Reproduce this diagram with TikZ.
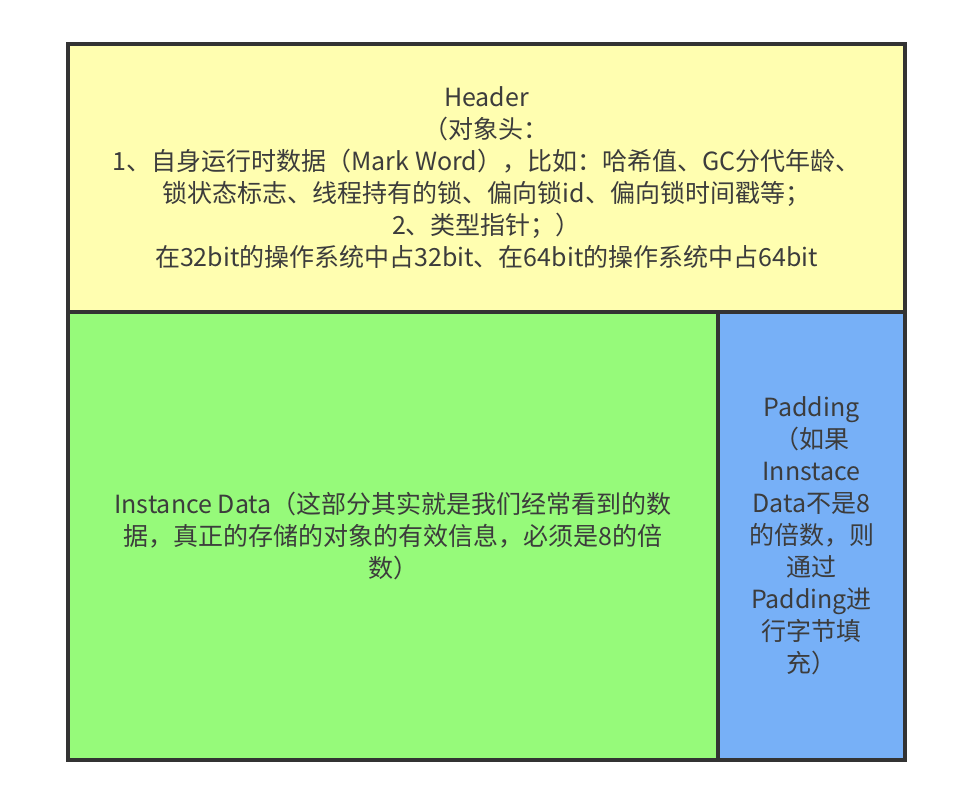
\documentclass[tikz,border=0pt]{standalone}
\usepackage{fontspec}
\setmainfont{Noto Sans CJK SC}
\usepackage{xcolor}
\usepackage{tikz}
\usetikzlibrary{positioning}

\definecolor{headeryellow}{RGB}{255,254,176}
\definecolor{datagreen}{RGB}{150,250,122}
\definecolor{paddingblue}{RGB}{119,176,247}
\definecolor{linegray}{RGB}{51,51,51}
\definecolor{textgray}{RGB}{60,60,60}

\tikzstyle{block} = [draw=linegray, line width=4pt, outer sep=0pt, inner sep=0pt,
    text=textgray, align=center, font=\fontsize{25}{32}\selectfont]

\begin{document}
\begin{tikzpicture}[x=1pt, y=-1pt]

\useasboundingbox (0,0) rectangle (978,806);

% Header
\node[block, fill=headeryellow, minimum width=837pt, minimum height=268pt,
      anchor=north west] (header) at (68,44)
  {Header\\（对象头：\\1、自身运行时数据（Mark Word），比如：哈希值、GC分代年龄、\\
   锁状态标志、线程持有的锁、偏向锁id、偏向锁时间戳等；\\2、类型指针；）\\
   在32bit的操作系统中占32bit、在64bit的操作系统中占64bit};

% Instance Data
\node[block, fill=datagreen, minimum width=650pt, minimum height=448pt,
      anchor=north west] (instance) at (header.south west)
  {Instance Data（这部分其实就是我们经常看到的数\\
   据，真正的存储的对象的有效信息，必须是8的倍\\数）};

% Padding
\node[block, fill=paddingblue, minimum width=187pt, minimum height=448pt,
      right=0pt of instance] (padding)
  {Padding\\（如果\\Innstace\\Data不是8\\的倍数，则\\通过\\Padding进\\行字节填\\充）};

\end{tikzpicture}
\end{document}
